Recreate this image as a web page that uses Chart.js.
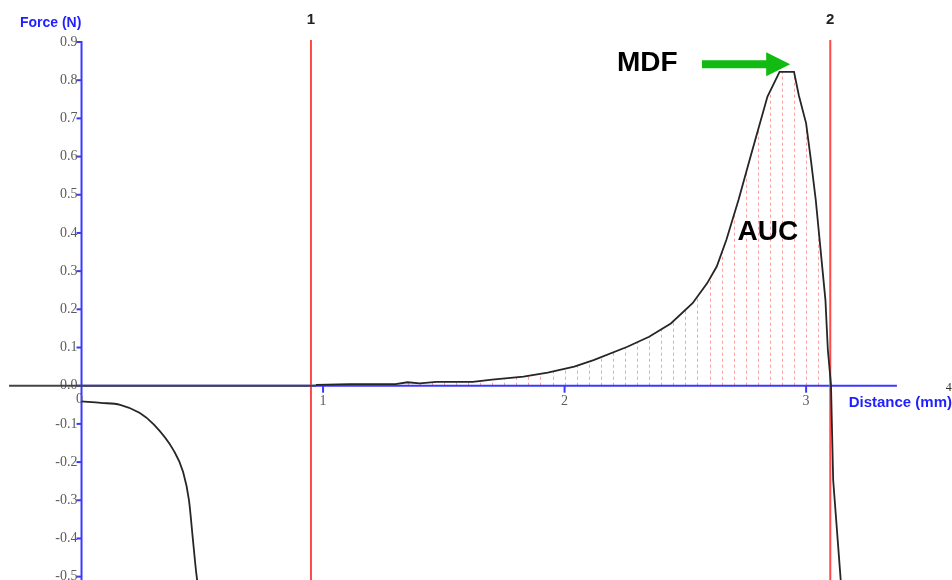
<!DOCTYPE html>
<html>
<head>
<meta charset="utf-8">
<script src="https://cdn.jsdelivr.net/npm/chart.js@4.4.1/dist/chart.umd.min.js"></script>
<style>
  html, body { margin: 0; padding: 0; background: #ffffff; }
  #wrap { width: 952px; height: 580px; position: relative; }
</style>
</head>
<body>
<div id="wrap"><canvas id="c"></canvas></div>
<script>
// Approach phase (probe moving in, negative force)
const approachDist  = [0.00, 0.08, 0.16, 0.24, 0.30, 0.38, 0.42, 0.445, 0.46, 0.475, 0.49];
const approachForce = [-0.041, -0.045, -0.050, -0.071, -0.102, -0.168, -0.225, -0.300, -0.395, -0.490, -0.560];

// Force curve between markers 1 and 2
const curveDist  = [0.97, 1.11, 1.30, 1.35, 1.40, 1.47, 1.62, 1.70, 1.83, 1.93, 2.04, 2.12, 2.26, 2.35, 2.44, 2.53,
                    2.59, 2.63, 2.67, 2.72, 2.77, 2.84, 2.89, 2.95, 2.97, 3.00, 3.02, 3.04, 3.06, 3.08, 3.09, 3.103, 3.112, 3.141, 3.149];
const curveForce = [0.002, 0.004, 0.004, 0.009, 0.006, 0.010, 0.010, 0.016, 0.024, 0.034, 0.050, 0.067, 0.102, 0.128, 0.163, 0.216,
                    0.268, 0.312, 0.382, 0.486, 0.600, 0.757, 0.822, 0.822, 0.760, 0.687, 0.590, 0.486, 0.355, 0.224, 0.094, 0.002, -0.247, -0.490, -0.560];

// Zero line left of the measurement window
const baselineDist = [-0.30, 0.97];

// Vertical markers
const markerDist   = [0.95, 3.10];
const markerLabels = ['1', '2'];

// Axis ticks
const yTickValues = [0.9, 0.8, 0.7, 0.6, 0.5, 0.4, 0.3, 0.2, 0.1, 0.0, -0.1, -0.2, -0.3, -0.4, -0.5];
const yTickLabels = ['0.9', '0.8', '0.7', '0.6', '0.5', '0.4', '0.3', '0.2', '0.1', '0.0', '-0.1', '-0.2', '-0.3', '-0.4', '-0.5'];
const xTickValues = [0, 1, 2, 3];
const xTickLabels = ['0', '1', '2', '3'];

// Hatching of the area under the curve
const hatchFrom = 1.00, hatchTo = 3.10, hatchStep = 0.05;

const X_MIN = -0.3375, X_MAX = 3.604;
const Y_MIN = -0.5088, Y_MAX = 1.01;

const AXIS_BLUE = '#3a3aff';
const TICK_GREY = '#5c5c5c';

const pts = (xs, ys) => xs.map((x, i) => ({ x: x, y: ys[i] }));

const markerTop = 0.905;
const markerDatasets = markerDist.map(d => ({
  data: [{ x: d, y: markerTop }, { x: d, y: Y_MIN - 0.05 }],
  borderColor: '#ff4a4a',
  borderWidth: 2,
  pointRadius: 0,
  order: 3
}));

// Area-under-curve hatching (clipped to the curve polygon) and the axes
const hatchPlugin = {
  id: 'aucHatch',
  beforeDatasetsDraw(chart) {
    const ctx = chart.ctx;
    const xs = chart.scales.x, ys = chart.scales.y;
    const meta = chart.getDatasetMeta(1);
    const y0 = ys.getPixelForValue(0);
    ctx.save();
    ctx.beginPath();
    ctx.moveTo(meta.data[0].x, y0);
    meta.data.forEach(p => ctx.lineTo(p.x, p.y));
    ctx.lineTo(meta.data[meta.data.length - 1].x, y0);
    ctx.closePath();
    ctx.clip();
    ctx.strokeStyle = 'rgba(255, 60, 60, 0.5)';
    ctx.lineWidth = 1;
    ctx.setLineDash([3, 3]);
    for (let d = hatchFrom; d <= hatchTo + 1e-9; d += hatchStep) {
      const px = Math.round(xs.getPixelForValue(d)) + 0.5;
      ctx.beginPath();
      ctx.moveTo(px, y0);
      ctx.lineTo(px, chart.chartArea.top);
      ctx.stroke();
    }
    ctx.restore();

    // Axes
    ctx.save();
    ctx.strokeStyle = AXIS_BLUE;
    ctx.lineWidth = 2;
    const yAxisX = xs.getPixelForValue(0);
    ctx.beginPath();
    ctx.moveTo(yAxisX, ys.getPixelForValue(0.9) - 1);
    ctx.lineTo(yAxisX, chart.chartArea.bottom);
    ctx.stroke();
    ctx.beginPath();
    ctx.moveTo(yAxisX, y0);
    ctx.lineTo(xs.getPixelForValue(3.376), y0);
    ctx.stroke();

    yTickValues.forEach(v => {
      const py = ys.getPixelForValue(v);
      ctx.beginPath();
      ctx.moveTo(yAxisX - 5, py);
      ctx.lineTo(yAxisX, py);
      ctx.stroke();
    });
    xTickValues.forEach(v => {
      if (v === 0) return;
      const px = xs.getPixelForValue(v);
      ctx.beginPath();
      ctx.moveTo(px, y0);
      ctx.lineTo(px, y0 + 7);
      ctx.stroke();
    });

    ctx.fillStyle = TICK_GREY;
    ctx.font = '14px "Liberation Serif", "DejaVu Serif", serif';
    ctx.textAlign = 'right';
    ctx.textBaseline = 'middle';
    yTickValues.forEach((v, i) => {
      ctx.fillText(yTickLabels[i], yAxisX - 4, ys.getPixelForValue(v));
    });
    ctx.textAlign = 'center';
    ctx.textBaseline = 'top';
    xTickValues.forEach((v, i) => {
      const px = xs.getPixelForValue(v) + (v === 0 ? -2 : 0);
      ctx.fillText(xTickLabels[i], px, y0 + (v === 0 ? 7 : 9));
    });
    ctx.restore();
  },
  afterDatasetsDraw(chart) {
    const ctx = chart.ctx;
    const xs = chart.scales.x, ys = chart.scales.y;
    const X = v => xs.getPixelForValue(v), Y = v => ys.getPixelForValue(v);
    ctx.save();

    // Marker numbers
    ctx.fillStyle = '#222222';
    ctx.font = 'bold 15px "Liberation Sans", Arial, sans-serif';
    ctx.textAlign = 'center';
    ctx.textBaseline = 'middle';
    markerDist.forEach((d, i) => ctx.fillText(markerLabels[i], X(d), Y(0.958)));

    // Axis titles
    ctx.fillStyle = '#1f1fff';
    ctx.font = 'bold 14px "Liberation Sans", Arial, sans-serif';
    ctx.textAlign = 'left';
    ctx.fillText('Force (N)', X(-0.255), Y(0.950));
    ctx.font = 'bold 15px "Liberation Sans", Arial, sans-serif';
    ctx.textAlign = 'right';
    ctx.fillText('Distance (mm)', chart.chartArea.right, Y(-0.045));

    ctx.fillStyle = '#333333';
    ctx.font = '12px "Liberation Serif", serif';
    ctx.textAlign = 'left';
    ctx.fillText('4', X(3.578), Y(-0.006));

    // Annotations
    ctx.fillStyle = '#000000';
    ctx.font = 'bold 28px "Liberation Sans", Arial, sans-serif';
    ctx.textAlign = 'left';
    ctx.fillText('MDF', X(2.217), Y(0.845));
    ctx.fillText('AUC', X(2.716), Y(0.402));

    // Arrow pointing at the peak force
    const tipX = X(2.934), tipY = Y(0.842), tailX = X(2.569);
    const headLen = 24, headHalf = 12, shaftHalf = 4;
    ctx.fillStyle = '#11bb11';
    ctx.beginPath();
    ctx.moveTo(tailX, tipY - shaftHalf);
    ctx.lineTo(tipX - headLen, tipY - shaftHalf);
    ctx.lineTo(tipX - headLen, tipY - headHalf);
    ctx.lineTo(tipX, tipY);
    ctx.lineTo(tipX - headLen, tipY + headHalf);
    ctx.lineTo(tipX - headLen, tipY + shaftHalf);
    ctx.lineTo(tailX, tipY + shaftHalf);
    ctx.closePath();
    ctx.fill();

    ctx.restore();
  }
};

new Chart(document.getElementById('c'), {
  type: 'line',
  data: {
    datasets: [
      {
        data: pts(approachDist, approachForce),
        borderColor: '#262626', borderWidth: 1.8, pointRadius: 0,
        cubicInterpolationMode: 'monotone', order: 1
      },
      {
        data: pts(curveDist, curveForce),
        borderColor: '#262626', borderWidth: 1.8, pointRadius: 0, tension: 0, order: 1
      },
      {
        data: pts(baselineDist, [0, 0]),
        borderColor: '#444444', borderWidth: 2, pointRadius: 0, order: 2
      },
      ...markerDatasets
    ]
  },
  options: {
    responsive: true,
    maintainAspectRatio: false,
    animation: false,
    layout: { padding: 0 },
    plugins: { legend: { display: false }, tooltip: { enabled: false } },
    scales: {
      x: { type: 'linear', min: X_MIN, max: X_MAX, display: false },
      y: { type: 'linear', min: Y_MIN, max: Y_MAX, display: false }
    }
  },
  plugins: [hatchPlugin]
});
</script>
</body>
</html>
